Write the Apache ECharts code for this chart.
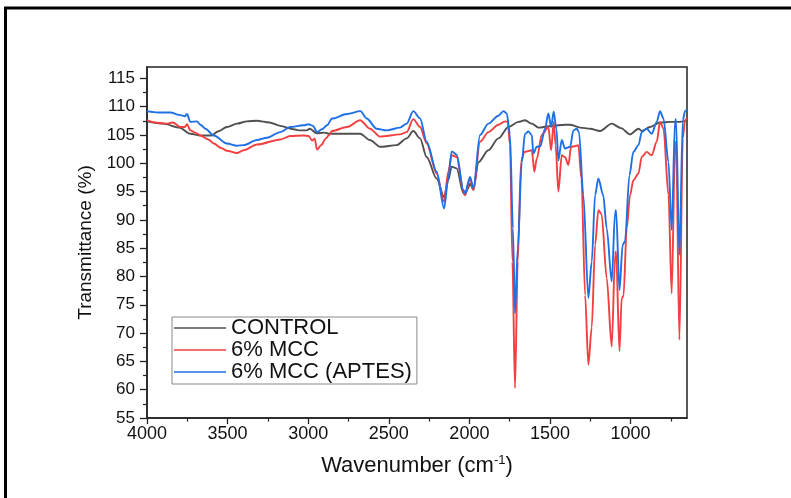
<!DOCTYPE html>
<html>
<head>
<meta charset="utf-8">
<script src="https://cdn.jsdelivr.net/npm/echarts@6/dist/echarts.min.js"></script>
<style>html,body{margin:0;padding:0;background:#fff}#c{width:791px;height:498px}</style>
</head>
<body>
<div id="c"></div>
<script>
// ---- data ----
const seriesNames = ['CONTROL', '6% MCC', '6% MCC (APTES)'];
const xTickLabels = [4000, 3500, 3000, 2500, 2000, 1500, 1000];
const xMinorTicks = [3750, 3250, 2750, 2250, 1750, 1250, 750];
const yTickLabels = [55, 60, 65, 70, 75, 80, 85, 90, 95, 100, 105, 110, 115];
const yMinorTicks = [57.5, 62.5, 67.5, 72.5, 77.5, 82.5, 87.5, 92.5, 97.5, 102.5, 107.5, 112.5];

const controlX = [4000,3900,3800,3730,3669,3600,3560,3504,3442,3380,3320,3240,3173,3090,3051,3010,2990,2947,2900,2865,2760,2678,2617,2554,2451,2389,2348,2306,2265,2203,2157,2131,2110,2079,2037,2027,2010,1996,1975,1944,1882,1820,1758,1696,1655,1613,1572,1490,1407,1375,1313,1251,1189,1117,1060,1003,951,930,879,817,755,700,672,650];
const controlY = [107.4,107.0,106.3,105.2,104.9,104.9,105.6,106.4,107.0,107.4,107.5,107.2,106.6,106.0,105.8,105.8,106.1,105.3,105.4,105.2,105.2,105.2,104.1,102.9,103.2,104.4,105.7,104.4,101.1,97.3,94.0,97.0,99.4,99.1,94.7,94.4,95.5,96.4,95.3,100.2,102.3,104.4,106.4,107.3,107.6,107.0,106.3,106.6,106.8,106.8,106.3,106.1,105.7,107.0,106.2,105.1,106.1,105.7,106.4,107.2,107.3,107.3,107.4,107.6];

const mccX = [4000,3950,3880,3840,3793,3765,3752,3731,3700,3669,3620,3586,3540,3504,3442,3400,3318,3173,3111,3028,2997,2975,2960,2945,2920,2890,2873,2852,2759,2678,2617,2554,2430,2389,2348,2306,2265,2203,2157,2131,2110,2079,2037,2027,1996,1975,1934,1882,1820,1779,1762,1748,1733,1717,1700,1680,1659,1613,1597,1582,1551,1510,1493,1477,1465,1448,1427,1407,1386,1369,1345,1324,1305,1282,1262,1241,1220,1200,1180,1148,1117,1096,1090,1069,1055,1044,1024,1003,983,951,931,900,869,838,817,796,765,745,724,718,697,676,662,650];
const mccY = [107.6,107.2,107.0,107.2,106.4,106.4,106.9,105.8,105.4,104.9,104.2,103.5,102.7,102.2,101.8,102.3,103.3,104.2,104.8,104.9,104.8,104.0,104.4,102.4,103.2,104.4,104.9,105.7,106.4,107.6,106.1,104.7,105.1,105.5,107.8,106.4,103.5,98.2,93.2,98.5,101.4,101.1,95.1,94.4,97.3,95.3,103.8,105.5,106.8,107.4,107.3,103.2,82.6,60.3,82.6,100.2,102.0,102.3,98.5,100.8,105.0,106.4,102.3,107.3,103.2,95.0,101.4,101.1,99.7,102.9,103.0,103.2,97.3,76.7,64.4,71.0,85.6,91.7,91.0,79.7,67.6,83.8,84.4,66.8,76.2,76.5,88.5,94.4,97.0,98.2,101.1,102.0,101.4,103.8,107.3,106.1,94.4,77.0,103.2,103.8,68.8,104.4,107.6,108.0];

const aptesX = [4000,3930,3855,3793,3765,3752,3731,3690,3669,3638,3586,3504,3442,3400,3318,3256,3173,3111,3028,2997,2970,2945,2915,2883,2852,2759,2676,2637,2575,2513,2430,2389,2348,2306,2265,2203,2157,2131,2110,2079,2037,2027,1996,1975,1934,1882,1820,1789,1768,1748,1730,1717,1700,1675,1655,1634,1613,1603,1582,1560,1531,1510,1493,1477,1460,1448,1427,1407,1375,1355,1334,1320,1293,1262,1241,1220,1200,1170,1148,1117,1096,1090,1069,1049,1035,1007,983,951,931,900,869,838,817,796,765,745,724,718,697,676,662,650];
const aptesY = [109.2,108.95,108.95,108.5,108.3,108.7,107.3,107.4,106.8,106.1,104.9,103.5,103.1,103.2,104.1,104.5,105.5,106.4,106.7,106.9,106.6,105.5,106.0,106.7,107.9,108.7,109.2,107.9,106.1,105.8,106.3,107.0,109.2,107.9,103.8,98.5,92.0,97.3,102.1,101.5,95.3,94.7,97.6,95.6,105.0,107.0,108.4,109.2,108.8,105.0,88.5,73.5,85.0,100.2,105.2,105.6,105.0,101.7,102.9,103.0,106.1,108.8,106.4,109.1,106.0,100.5,104.1,102.6,102.9,105.8,106.1,105.5,94.4,76.2,82.6,94.4,97.3,94.4,88.5,79.1,91.4,91.7,77.6,85.6,86.2,97.9,102.0,103.2,105.5,106.1,105.2,107.3,109.2,107.9,100.2,88.2,107.6,107.8,83.8,107.6,109.2,109.5];

const colors = ['#505050', '#f23f3f', '#1f6fe5'];
const xs = [controlX, mccX, aptesX];
const ys = [controlY, mccY, aptesY];

const FONT = '"Liberation Sans", Arial, sans-serif';
const chart = echarts.init(document.getElementById('c'), null, {renderer: 'canvas'});

const series = seriesNames.map((n, i) => ({
  name: n,
  type: 'line',
  xAxisIndex: 0,
  yAxisIndex: 0,
  data: xs[i].map((x, k) => [x, ys[i][k]]),
  symbol: 'none',
  showSymbol: false,
  smooth: 0.3,
  smoothMonotone: 'x',
  lineStyle: {color: colors[i], width: 1.9},
  itemStyle: {color: colors[i]},
  animation: false,
  z: 2 + i
}));

const plain = v => String(v);

const option = {
  animation: false,
  backgroundColor: '#fff',
  grid: {left: 147, right: 104, top: 67, bottom: 80, show: true, borderColor: '#222', borderWidth: 1.5, backgroundColor: 'transparent'},
  legend: {
    data: seriesNames,
    orient: 'vertical',
    left: 172, top: 317,
    icon: 'rect',
    itemWidth: 52, itemHeight: 1.6, itemGap: 0,
    padding: [0, 5, 1, 2],
    backgroundColor: '#fff',
    borderColor: '#888', borderWidth: 1,
    textStyle: {fontFamily: FONT, fontSize: 22, color: '#111', lineHeight: 22, padding: [0, 0, 0, 0]}
  },
  xAxis: [{
    type: 'value', inverse: true, min: 650, max: 4000,
    axisLine: {show: true, lineStyle: {color: '#222', width: 1.5}},
    axisTick: {show: true, length: 6, customValues: xTickLabels, lineStyle: {color: '#222', width: 1.3}},
    axisLabel: {customValues: xTickLabels, formatter: plain, fontFamily: FONT, fontSize: 18, color: '#111', margin: 7},
    splitLine: {show: false},
    name: 'Wavenumber (cm{sup|-1})',
    nameLocation: 'middle', nameGap: 36,
    nameTextStyle: {fontFamily: FONT, fontSize: 22, color: '#111', lineHeight: 24,
      rich: {sup: {fontFamily: FONT, fontSize: 13, color: '#111', verticalAlign: 'top', lineHeight: 24, padding: [0, 0, 10, 0]}}}
  }, {
    type: 'value', inverse: true, min: 650, max: 4000, position: 'bottom',
    axisLine: {show: false},
    axisTick: {show: true, length: 3.5, customValues: xMinorTicks, lineStyle: {color: '#222', width: 1.2}},
    axisLabel: {show: false},
    splitLine: {show: false}
  }],
  yAxis: [{
    type: 'value', min: 55, max: 117,
    axisLine: {show: true, lineStyle: {color: '#222', width: 1.5}},
    axisTick: {show: true, length: 7, customValues: yTickLabels, lineStyle: {color: '#222', width: 1.3}},
    axisLabel: {customValues: yTickLabels, formatter: plain, fontFamily: FONT, fontSize: 17, color: '#111', margin: 12},
    splitLine: {show: false},
    name: 'Transmittance (%)',
    nameLocation: 'middle', nameGap: 47, nameRotate: 90,
    nameTextStyle: {fontFamily: FONT, fontSize: 19, color: '#111'}
  }, {
    type: 'value', min: 55, max: 117, position: 'left',
    axisLine: {show: false},
    axisTick: {show: true, length: 4, customValues: yMinorTicks, lineStyle: {color: '#222', width: 1.2}},
    axisLabel: {show: false},
    splitLine: {show: false}
  }],
  graphic: [{
    type: 'polyline', silent: true, z: 100,
    shape: {points: [[5.5, 498], [5.5, 8], [791, 8]]},
    style: {stroke: '#000', lineWidth: 3, fill: null}
  }],
  series: series
};
chart.setOption(option);
</script>
</body>
</html>
